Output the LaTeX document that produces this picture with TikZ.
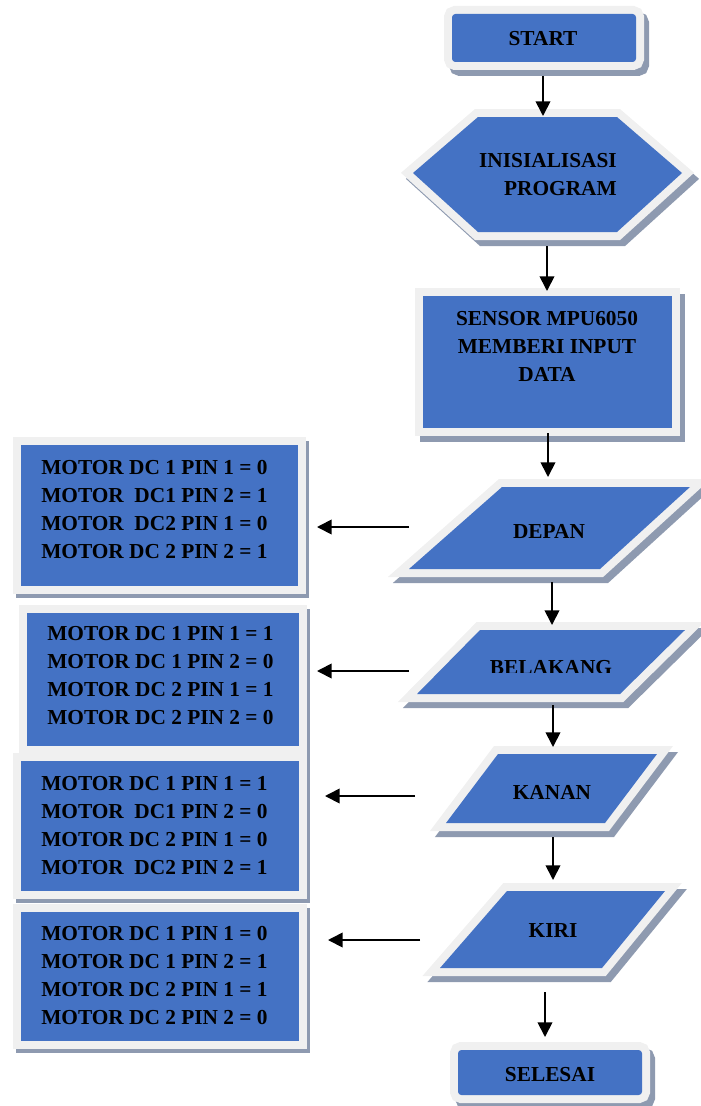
\documentclass[tikz,border=0pt]{standalone}
\usepackage{fontspec}
\setmainfont{Liberation Serif}
\usetikzlibrary{arrows.meta}
\definecolor{bluefill}{HTML}{4472C4}
\definecolor{lightrim}{HTML}{F0F0F0}
\definecolor{shadowc}{HTML}{8E9AB0}
\begin{document}
\begin{tikzpicture}[x=0.75pt,y=-0.75pt,
  flowshape/.style={
    preaction={fill=shadowc, draw=shadowc, line width=12pt, line join=miter, transform canvas={shift={(5,6)}}},
    preaction={draw=lightrim, line width=12pt, line join=miter},
    fill=bluefill},
  sideshape/.style={
    preaction={fill=shadowc, draw=shadowc, line width=12pt, line join=miter, transform canvas={shift={(3,4)}}},
    preaction={draw=lightrim, line width=12pt, line join=miter},
    fill=bluefill},
  lbl/.style={font=\fontsize{16}{21}\selectfont\bfseries, inner sep=0pt, text=black},
  conn/.style={line width=1.3pt, -{Triangle[width=11pt,length=11pt]}}
]
\useasboundingbox (0,0) rectangle (700,1106);

% ---- right column shapes ----
\path[flowshape, rounded corners=2.5pt] (452,14) rectangle (636,62);
\node[lbl] (start) at (543,39) {START};

\path[flowshape] (413,173) -- (478,117) -- (617,117) -- (682,173) -- (617,232) -- (478,232) -- cycle;
\node[lbl, align=right, anchor=east] (init) at (617,175) {INISIALISASI\\PROGRAM};

\path[flowshape] (423,296) rectangle (672,428);
\node[lbl, align=center] (sensor) at (547,346.5) {SENSOR MPU6050\\MEMBERI INPUT\\DATA};

\path[flowshape] (502,487) -- (690,487) -- (600,569) -- (409,569) -- cycle;
\node[lbl] (depan) at (549,531) {DEPAN};

\path[flowshape] (480,630) -- (685,630) -- (620,694) -- (417,694) -- cycle;
\begin{scope}
\clip (400,600) rectangle (700,672);
\node[lbl] (belakang) at (551,667.5) {BELAKANG};
\end{scope}

\path[flowshape] (498,754) -- (657,754) -- (605,823) -- (446,823) -- cycle;
\node[lbl] (kanan) at (552,792) {KANAN};

\path[flowshape] (507,891) -- (665,891) -- (602,968) -- (440,968) -- cycle;
\node[lbl] (kiri) at (553,931) {KIRI};

\path[flowshape, rounded corners=2.5pt] (458,1050) rectangle (642,1095);
\node[lbl] (selesai) at (550,1075) {SELESAI};

% ---- left column boxes ----
\path[sideshape] (21,445) rectangle (298,586);
\node[lbl, align=left, anchor=west] (m1) at (41,509.5) {MOTOR DC 1 PIN 1 = 0\\MOTOR~ DC1 PIN 2 = 1\\MOTOR~ DC2 PIN 1 = 0\\MOTOR DC 2 PIN 2 = 1};

\path[sideshape] (27,613) rectangle (299,746);
\node[lbl, align=left, anchor=west] (m2) at (47,675.5) {MOTOR DC 1 PIN 1 = 1\\MOTOR DC 1 PIN 2 = 0\\MOTOR DC 2 PIN 1 = 1\\MOTOR DC 2 PIN 2 = 0};

\path[sideshape] (21,761) rectangle (299,891);
\node[lbl, align=left, anchor=west] (m3) at (41,825.5) {MOTOR DC 1 PIN 1 = 1\\MOTOR~ DC1 PIN 2 = 0\\MOTOR DC 2 PIN 1 = 0\\MOTOR~ DC2 PIN 2 = 1};

\path[sideshape] (21,912) rectangle (299,1041);
\node[lbl, align=left, anchor=west] (m4) at (41,975.5) {MOTOR DC 1 PIN 1 = 0\\MOTOR DC 1 PIN 2 = 1\\MOTOR DC 2 PIN 1 = 1\\MOTOR DC 2 PIN 2 = 0};

% ---- connector end points ----
\coordinate (startOut) at (543,76);   \coordinate (initIn) at (543,116);
\coordinate (initOut) at (547,246);   \coordinate (sensorIn) at (547,291);
\coordinate (sensorOut) at (548,433); \coordinate (depanIn) at (548,477);
\coordinate (depanOut) at (552,582);  \coordinate (belakangIn) at (552,625);
\coordinate (belakangOut) at (553,705); \coordinate (kananIn) at (553,747);
\coordinate (kananOut) at (553,837);  \coordinate (kiriIn) at (553,880);
\coordinate (kiriOut) at (545,992);   \coordinate (selesaiIn) at (545,1037);

\coordinate (depanL) at (409,527);    \coordinate (m1R) at (317,527);
\coordinate (belakangL) at (409,671); \coordinate (m2R) at (317,671);
\coordinate (kananL) at (415,796);    \coordinate (m3R) at (325,796);
\coordinate (kiriL) at (420,940);     \coordinate (m4R) at (328,940);

\draw[conn] (startOut) -- (initIn);
\draw[conn] (initOut) -- (sensorIn);
\draw[conn] (sensorOut) -- (depanIn);
\draw[conn] (depanOut) -- (belakangIn);
\draw[conn] (belakangOut) -- (kananIn);
\draw[conn] (kananOut) -- (kiriIn);
\draw[conn] (kiriOut) -- (selesaiIn);

\draw[conn] (depanL) -- (m1R);
\draw[conn] (belakangL) -- (m2R);
\draw[conn] (kananL) -- (m3R);
\draw[conn] (kiriL) -- (m4R);
\end{tikzpicture}
\end{document}
